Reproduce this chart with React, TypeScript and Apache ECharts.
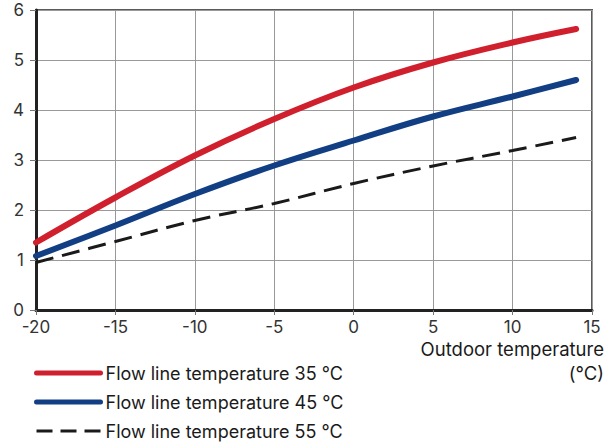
import React, { useEffect, useRef } from "react";
import * as echarts from "echarts";

const outdoorTemps = [-20, -15, -10, -5, 0, 5, 10, 14];
const flow35 = [1.35, 2.25, 3.09, 3.82, 4.45, 4.95, 5.35, 5.62];
const flow45 = [1.08, 1.69, 2.32, 2.89, 3.39, 3.87, 4.27, 4.6];
const flow55 = [0.95, 1.37, 1.79, 2.13, 2.53, 2.88, 3.19, 3.45];
const seriesNames = [
  "Flow line temperature 35 °C",
  "Flow line temperature 45 °C",
  "Flow line temperature 55 °C",
];
const xAxisNameLines = ["Outdoor temperature", "(°C)"];

const FONT = "Inter, 'Noto Sans', sans-serif";
const RED = "#d0202e";
const BLUE = "#123f84";
const DARK = "#1a1a1a";

export default function App() {
  const ref = useRef<HTMLDivElement>(null);
  useEffect(() => {
    if (!ref.current) return;
    const chart = echarts.init(ref.current, undefined, { renderer: "svg" });
    const pairs = (ys: number[]) => outdoorTemps.map((x, i) => [x, ys[i]]);
    chart.setOption({
      animation: false,
      grid: {
        left: 36,
        right: 24,
        top: 10,
        bottom: 134,
        outerBoundsMode: "none",
        containLabel: false,
        show: true,
        borderColor: "#5a5a5a",
        borderWidth: 2,
      },
      graphic: xAxisNameLines.map((t, i) => ({
        type: "text",
        right: 12,
        top: 339 + i * 24,
        style: { text: t, fontFamily: FONT, fontSize: 18.5, fill: DARK },
      })),
      legend: {
        orient: "vertical",
        left: 34,
        top: 364,
        padding: 0,
        height: 90,
        itemWidth: 64,
        itemHeight: 14,
        itemGap: 11,
        itemStyle: { opacity: 0 },
        textStyle: { fontFamily: FONT, fontSize: 18, color: DARK },
        data: [
          { name: seriesNames[0], lineStyle: { width: 5, color: RED, cap: "round" } },
          { name: seriesNames[1], lineStyle: { width: 5, color: BLUE, cap: "round" } },
          { name: seriesNames[2], lineStyle: { width: 3, color: DARK, type: [16, 8] } },
        ],
      },
      xAxis: {
        type: "value",
        min: -20,
        max: 15,
        interval: 5,
        axisLine: { show: true, onZero: false, lineStyle: { color: "#222", width: 3 } },
        axisTick: { show: true, length: 5, lineStyle: { color: "#777", width: 1 } },
        axisLabel: { fontFamily: FONT, fontSize: 17, color: "#333", margin: 8 },
        splitLine: { show: true, lineStyle: { color: "#999", width: 1 } },
      },
      yAxis: {
        type: "value",
        min: 0,
        max: 6,
        interval: 1,
        axisLine: { show: true, onZero: false, lineStyle: { color: "#222", width: 3 } },
        axisTick: { show: true, length: 6, lineStyle: { color: "#777", width: 1 } },
        axisLabel: { fontFamily: FONT, fontSize: 17, color: "#333", margin: 12 },
        splitLine: { show: true, lineStyle: { color: "#999", width: 1 } },
      },
      series: [
        {
          name: seriesNames[0],
          type: "line",
          data: pairs(flow35),
          smooth: 0.4,
          symbol: "none",
          lineStyle: { color: RED, width: 6, cap: "round" },
          itemStyle: { color: RED },
        },
        {
          name: seriesNames[1],
          type: "line",
          data: pairs(flow45),
          smooth: 0.4,
          symbol: "none",
          lineStyle: { color: BLUE, width: 6, cap: "round" },
          itemStyle: { color: BLUE },
        },
        {
          name: seriesNames[2],
          type: "line",
          data: pairs(flow55),
          smooth: 0.4,
          symbol: "none",
          lineStyle: { color: DARK, width: 3, type: [18, 9] },
          itemStyle: { color: DARK },
        },
      ],
    });
    return () => chart.dispose();
  }, []);
  return <div ref={ref} style={{ width: 616, height: 444, position: "absolute", left: 0, top: 0 }} />;
}
